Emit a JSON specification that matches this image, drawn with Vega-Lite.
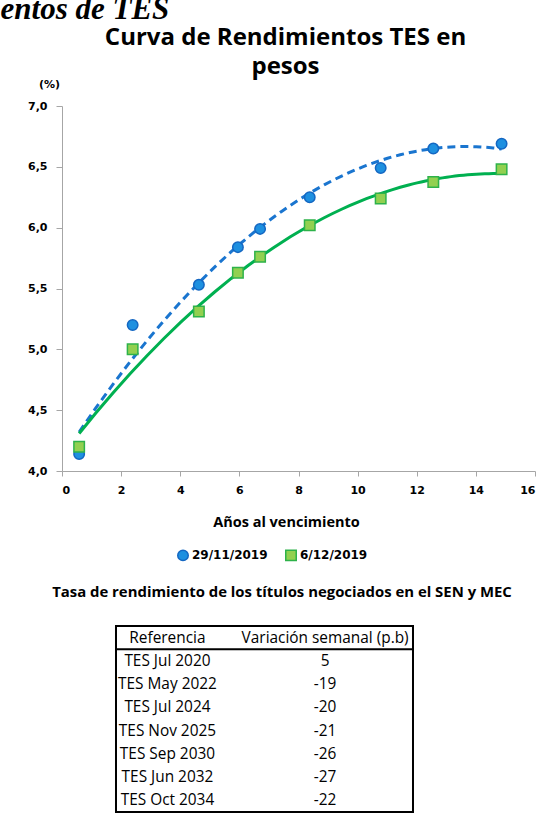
{
  "$schema": "https://vega.github.io/schema/vega-lite/v6.json",
  "background": "white",
  "padding": {"left": 0, "top": -6, "right": 0, "bottom": 0},
  "title": {"text": "entos de TES", "anchor": "start", "dx": -27, "font": "Liberation Serif", "fontSize": 31, "fontWeight": "bold", "fontStyle": "italic", "color": "black", "offset": 0},
  "spacing": 56,
  "datasets": {
    "curva": [
      {"serie": "29/11/2019", "anios": 0.58, "rendimiento": 4.14},
      {"serie": "29/11/2019", "anios": 2.39, "rendimiento": 5.20},
      {"serie": "29/11/2019", "anios": 4.63, "rendimiento": 5.53},
      {"serie": "29/11/2019", "anios": 5.95, "rendimiento": 5.84},
      {"serie": "29/11/2019", "anios": 6.70, "rendimiento": 5.99},
      {"serie": "29/11/2019", "anios": 8.38, "rendimiento": 6.25},
      {"serie": "29/11/2019", "anios": 10.78, "rendimiento": 6.49},
      {"serie": "29/11/2019", "anios": 12.56, "rendimiento": 6.65},
      {"serie": "29/11/2019", "anios": 14.87, "rendimiento": 6.69},
      {"serie": "6/12/2019", "anios": 0.58, "rendimiento": 4.20},
      {"serie": "6/12/2019", "anios": 2.39, "rendimiento": 5.00},
      {"serie": "6/12/2019", "anios": 4.63, "rendimiento": 5.31},
      {"serie": "6/12/2019", "anios": 5.95, "rendimiento": 5.63},
      {"serie": "6/12/2019", "anios": 6.70, "rendimiento": 5.76},
      {"serie": "6/12/2019", "anios": 8.38, "rendimiento": 6.02},
      {"serie": "6/12/2019", "anios": 10.78, "rendimiento": 6.24},
      {"serie": "6/12/2019", "anios": 12.56, "rendimiento": 6.375},
      {"serie": "6/12/2019", "anios": 14.87, "rendimiento": 6.48}
    ],
    "tabla": [
      {"referencia": "TES Jul 2020", "variacion": 5},
      {"referencia": "TES May 2022", "variacion": -19},
      {"referencia": "TES Jul 2024", "variacion": -20},
      {"referencia": "TES Nov 2025", "variacion": -21},
      {"referencia": "TES Sep 2030", "variacion": -26},
      {"referencia": "TES Jun 2032", "variacion": -27},
      {"referencia": "TES Oct 2034", "variacion": -22}
    ],
    "encabezado": [
      {"columna": "referencia", "texto": "Referencia"},
      {"columna": "variacion", "texto": "Variación semanal (p.b)"}
    ]
  },
  "vconcat": [
    {
      "width": 473,
      "height": 365,
      "view": {"stroke": null},
      "title": {"text": ["Curva de Rendimientos TES en", "pesos"], "font": "Open Sans", "fontSize": 24, "fontWeight": "bold", "lineHeight": 29, "anchor": "middle", "dx": -13, "offset": -1, "color": "black"},
      "data": {"name": "curva"},
      "encoding": {
        "x": {"field": "anios", "type": "quantitative", "scale": {"domain": [0, 16], "nice": false},
          "axis": {"title": "Años al vencimiento", "values": [0, 2, 4, 6, 8, 10, 12, 14, 16], "format": "d", "grid": false,
            "domainColor": "#A6A6A6", "tickColor": "#A6A6A6", "tickSize": 5,
            "labelFont": "DejaVu Sans", "labelFontSize": 11, "labelFontWeight": "bold", "labelColor": "black", "labelPadding": 8,
            "titleFont": "Open Sans", "titleFontSize": 14.5, "titleFontWeight": "bold", "titleColor": "black", "titlePadding": 20, "titleX": 224}},
        "y": {"field": "rendimiento", "type": "quantitative", "scale": {"domain": [4, 7], "nice": false, "zero": false},
          "axis": {"title": "(%)", "values": [4, 4.5, 5, 5.5, 6, 6.5, 7], "labelExpr": "replace(format(datum.value, '.1f'), '.', ',')", "grid": false,
            "domainColor": "#A6A6A6", "tickColor": "#A6A6A6", "tickSize": 6,
            "labelFont": "DejaVu Sans", "labelFontSize": 11, "labelFontWeight": "bold", "labelColor": "black", "labelPadding": 9,
            "titleAngle": 0, "titleX": -13, "titleY": -22, "titleAlign": "center", "titleBaseline": "middle",
            "titleFont": "DejaVu Sans", "titleFontSize": 11, "titleFontWeight": "bold", "titleColor": "black"}}
      },
      "layer": [
        {
          "transform": [{"filter": "datum.serie === '29/11/2019'"}, {"regression": "rendimiento", "on": "anios", "method": "poly", "order": 2}],
          "mark": {"type": "line", "color": "#1A75CF", "strokeWidth": 3, "strokeDash": [8, 5]}
        },
        {
          "transform": [{"filter": "datum.serie === '6/12/2019'"}, {"regression": "rendimiento", "on": "anios", "method": "poly", "order": 2}],
          "mark": {"type": "line", "color": "#00B050", "strokeWidth": 3}
        },
        {
          "mark": {"type": "point", "filled": true, "opacity": 1, "strokeWidth": 1.5, "size": 110},
          "encoding": {
            "shape": {"field": "serie", "type": "nominal", "scale": {"domain": ["29/11/2019", "6/12/2019"], "range": ["circle", "square"]}},
            "stroke": {"field": "serie", "type": "nominal", "scale": {"domain": ["29/11/2019", "6/12/2019"], "range": ["#1467C2", "#2EB24A"]}},
            "color": {"field": "serie", "type": "nominal", "scale": {"domain": ["29/11/2019", "6/12/2019"], "range": ["#1E90E0", "#92D050"]},
              "legend": {"title": null, "orient": "none", "legendX": 115, "legendY": 443, "direction": "horizontal",
                "labelFont": "DejaVu Sans", "labelFontSize": 12, "labelFontWeight": "bold", "labelColor": "black",
                "symbolSize": 110, "labelOffset": 3, "columnPadding": 14, "padding": 0}}
          }
        }
      ]
    },
    {
      "width": 473,
      "height": 186,
      "view": {"stroke": null},
      "title": {"text": "Tasa de rendimiento de los títulos negociados en el SEN y MEC", "font": "Open Sans", "fontSize": 14.9, "fontWeight": "bold", "anchor": "middle", "frame": "group", "dx": -16.5, "offset": 25, "color": "black"},
      "resolve": {"scale": {"x": "independent"}},
      "layer": [
        {
          "data": {"name": "encabezado"},
          "transform": [{"aggregate": [{"op": "count", "as": "n"}]}],
          "mark": {"type": "rect", "filled": false, "color": "black", "strokeWidth": 2},
          "encoding": {
            "x": {"datum": "tabla", "type": "nominal", "axis": null, "scale": {"type": "band", "domain": ["tabla"], "paddingInner": 0, "paddingOuter": 0.2963, "align": 0.3068}}
          }
        },
        {
          "data": {"name": "encabezado"},
          "transform": [{"aggregate": [{"op": "count", "as": "n"}]}],
          "mark": {"type": "rect", "filled": false, "color": "black", "strokeWidth": 2},
          "encoding": {
            "x": {"datum": "tabla", "type": "nominal", "axis": null, "scale": {"type": "band", "domain": ["tabla"], "paddingInner": 0, "paddingOuter": 0.2963, "align": 0.3068}},
            "y": {"datum": "encabezado", "type": "nominal", "axis": null}
          }
        },
        {
          "data": {"name": "tabla"},
          "transform": [{"fold": ["referencia", "variacion"], "as": ["columna", "valor"]}],
          "mark": {"type": "text", "font": "Open Sans", "fontSize": 15.4, "color": "black"},
          "encoding": {
            "x": {"field": "columna", "type": "nominal", "axis": null, "scale": {"type": "point", "domain": ["referencia", "variacion"], "padding": 1.1088, "align": 0.3344}},
            "y": {"field": "referencia", "type": "nominal", "axis": null, "scale": {"type": "band", "domain": ["encabezado", "TES Jul 2020", "TES May 2022", "TES Jul 2024", "TES Nov 2025", "TES Sep 2030", "TES Jun 2032", "TES Oct 2034"], "paddingInner": 0, "paddingOuter": 0}},
            "text": {"field": "valor", "type": "nominal"}
          }
        },
        {
          "data": {"name": "encabezado"},
          "mark": {"type": "text", "font": "Open Sans", "fontSize": 15.4, "color": "black"},
          "encoding": {
            "x": {"field": "columna", "type": "nominal", "axis": null, "scale": {"type": "point", "domain": ["referencia", "variacion"], "padding": 1.1088, "align": 0.3344}},
            "y": {"datum": "encabezado", "type": "nominal", "axis": null},
            "text": {"field": "texto", "type": "nominal"}
          }
        }
      ]
    }
  ]
}
